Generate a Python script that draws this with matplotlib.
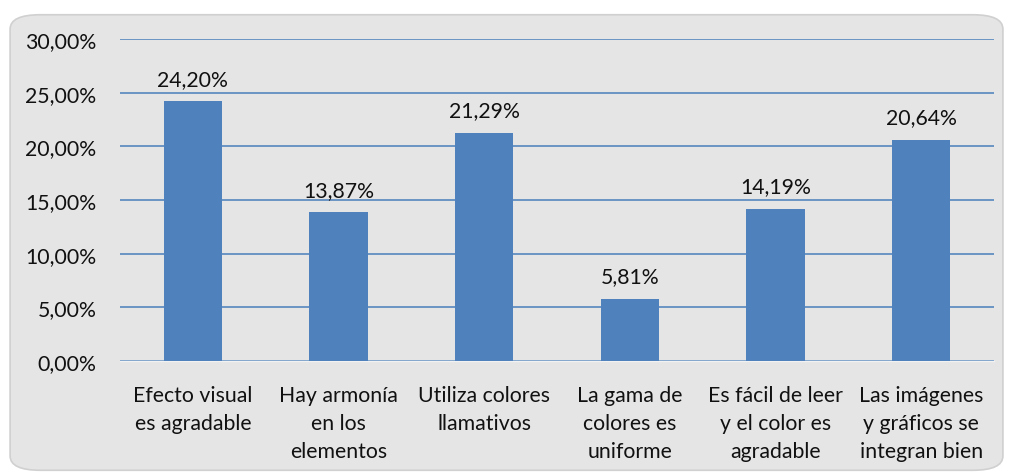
"""
Bar chart: valoración del diseño visual (porcentaje por criterio).
Saves out.png
"""
import matplotlib.pyplot as plt
from matplotlib.patches import FancyBboxPatch
from matplotlib.ticker import FuncFormatter, MultipleLocator

plt.rcParams["font.family"] = ["Lato", "DejaVu Sans"]

categories = [
    "Efecto visual\nes agradable",
    "Hay armonía\nen los\nelementos",
    "Utiliza colores\nllamativos",
    "La gama de\ncolores es\nuniforme",
    "Es fácil de leer\ny el color es\nagradable",
    "Las imágenes\ny gráficos se\nintegran bien",
]
values = [24.20, 13.87, 21.29, 5.81, 14.19, 20.64]

BAR_COLOR = "#4f81bd"
GRID_COLOR = "#4a7ebb"
TEXT_COLOR = "#111111"
FS = 15.3


def pct(v, _=None):
    return f"{v:.2f}".replace(".", ",") + "%"


fig = plt.figure(figsize=(10.11, 4.77), dpi=100)

# chart area background (rounded box)
box = FancyBboxPatch(
    (0.010, 0.012), 0.982, 0.955,
    boxstyle="round,pad=0,rounding_size=0.03",
    transform=fig.transFigure, facecolor="#e5e5e5",
    edgecolor="#d0d0d0", linewidth=1.2, zorder=-5,
)
fig.add_artist(box)

ax = fig.add_axes([0.1187, 0.241, 0.8645, 0.675])
ax.set_facecolor("none")

x = range(len(categories))
ax.bar(x, values, width=0.4, color=BAR_COLOR, zorder=3)

for i, v in enumerate(values):
    ax.annotate(pct(v), (i, v), xytext=(0, 9), textcoords="offset points",
                ha="center", va="bottom", fontsize=FS, color=TEXT_COLOR)

ax.set_xlim(-0.5, len(categories) - 0.5)
ax.set_ylim(0, 30)
ax.yaxis.set_major_locator(MultipleLocator(5))
ax.yaxis.set_major_formatter(FuncFormatter(pct))
ax.grid(axis="y", color=GRID_COLOR, linewidth=1.1, zorder=1)
ax.set_axisbelow(True)

ax.set_xticks(list(x))
ax.set_xticklabels(categories, fontsize=FS, linespacing=1.5, color=TEXT_COLOR)
ax.tick_params(axis="x", length=0, pad=17)
ax.tick_params(axis="y", length=0, pad=17, labelsize=FS, labelcolor=TEXT_COLOR)

for side in ("top", "right", "left"):
    ax.spines[side].set_visible(False)
ax.spines["bottom"].set_color("#f2f2f2")
ax.spines["bottom"].set_linewidth(1.0)

fig.savefig("out.png", dpi=100)
